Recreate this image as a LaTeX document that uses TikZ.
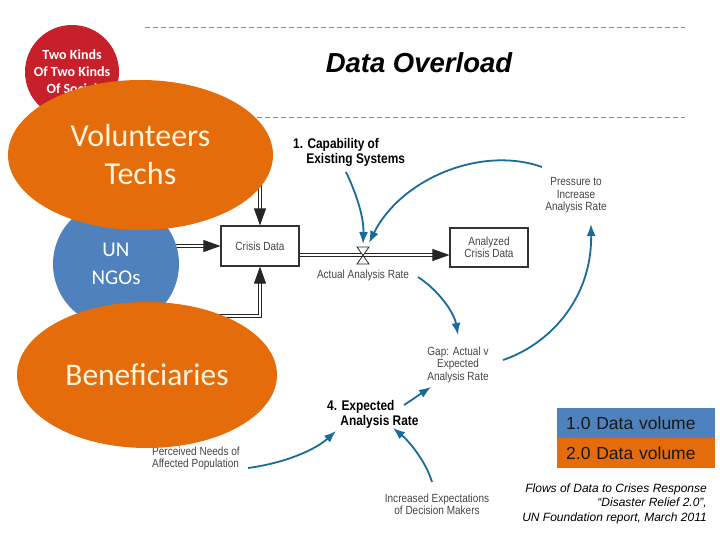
\documentclass[tikz,border=0pt]{standalone}
\usepackage{fontspec}
\setmainfont{Liberation Sans}
\newfontfamily\narrowfont[FakeStretch=0.85]{Liberation Sans}
\newfontfamily\calfont{Carlito}
\usetikzlibrary{shapes.geometric,arrows.meta,calc}
\definecolor{orng}{HTML}{E46C0A}
\definecolor{unblue}{HTML}{4F81BD}
\definecolor{redc}{HTML}{C8202B}
\definecolor{arrowblue}{HTML}{1A6A9A}
\definecolor{lblgray}{HTML}{444444}
\definecolor{cream}{HTML}{FFF4DE}
\definecolor{dashgray}{HTML}{8C8C8C}
\pgfdeclarelayer{bg}
\pgfdeclarelayer{fg}
\pgfsetlayers{bg,main,fg}
\begin{document}
\begin{tikzpicture}[x=1pt,y=-1pt,
  lbl/.style={font=\narrowfont\fontsize{11.8}{12.5}\selectfont, text=lblgray, inner sep=0pt, align=center},
  blbl/.style={font=\narrowfont\bfseries\fontsize{14}{15}\selectfont, text=black, inner sep=0pt, align=left},
  sbox/.style={draw=black!80, line width=1.1pt, fill=white, inner sep=0pt, minimum width=78pt, lbl},
  pipe/.style={draw=black!85, line width=0.8pt, double=white, double distance=2.6pt, -{Triangle[length=17pt,width=12pt]}},
  barrow/.style={draw=arrowblue, line width=1.8pt, -{Latex[length=12pt,width=9pt]}},
  blob/.style={ellipse, inner sep=0pt, fill=orng, text=cream, align=center},
  legbox/.style={minimum height=30pt, text width=140pt, inner xsep=9pt, inner ysep=0pt, align=left, font=\fontsize{17.5}{20}\selectfont, text=black!90},
  dline/.style={draw=dashgray, line width=0.6pt, dash pattern=on 5pt off 3pt}
]
\useasboundingbox (0,0) rectangle (720,540);

% dashed rules and title
\coordinate (d1a) at (145,27);  \coordinate (d1b) at (685,27);
\coordinate (d2a) at (145,117); \coordinate (d2b) at (685,117);
\draw[dline] (d1a) -- (d1b);
\draw[dline] (d2a) -- (d2b);
\node[anchor=base, font=\bfseries\itshape\fontsize{27.5}{30}\selectfont] (title) at (419,72.7) {Data Overload};

% circles
\node[circle, fill=redc, minimum size=94pt, inner sep=0pt, text=white, align=center,
      font=\calfont\bfseries\fontsize{14}{17}\selectfont] (two) at (72,72) {Two Kinds\\Of Two Kinds\\Of Social};
\node[circle, fill=unblue, minimum size=126pt, inner sep=0pt, text=white, align=center,
      font=\calfont\fontsize{21}{28}\selectfont] (un) at (116,264) {UN\\NGOs};

% stock boxes
\node[sbox, minimum height=40pt] (crisis) at (260,246) {Crisis Data};
\node[sbox, minimum height=39pt, font=\narrowfont\fontsize{11.8}{12}\selectfont] (anal) at (489,247.5) {Analyzed\\Crisis Data};

% pipes
\begin{pgfonlayer}{bg}
\coordinate (p1) at ([yshift=-9pt]crisis.east);
\coordinate (ul) at (crisis.west -| un.center);
\coordinate (bsrc) at (190,316);
\draw[pipe] (p1) -- (p1 -| anal.west);
\draw[pipe] (ul) -- (crisis.west);
\draw[pipe] (crisis.north |- 0,150) -- (crisis.north);
\draw[pipe] (bsrc) -| (crisis.south);
\end{pgfonlayer}

% valve
\coordinate (valve) at (363,255.5);
\draw[line width=0.8pt, draw=black!85, fill=white]
  ($(valve)+(-6,-8.5)$) -- ($(valve)+(6,-8.5)$) -- ($(valve)+(-6,8.5)$) -- ($(valve)+(6,8.5)$) -- cycle;
\coordinate (vtop) at (363,244);
\coordinate (vtop2) at (369,243);

% labels
\node[blbl, anchor=north west] (cap) at (293,138) {1. Capability of\\\hphantom{1.}\ Existing Systems};
\node[lbl, anchor=base] (actual) at (363,278) {Actual Analysis Rate};
\node[lbl, anchor=north] (pressure) at (576,177.5) {Pressure to\\Increase\\Analysis Rate};
\node[lbl, anchor=north] (gap) at (458,346.5) {Gap: Actual v\\Expected\\Analysis Rate};
\node[blbl, anchor=north west] (expect) at (327,400) {4. Expected\\\hphantom{4.}\ Analysis Rate};
\node[lbl, anchor=north west, align=left] (perc) at (152,446.5) {Perceived Needs of\\Affected Population};
\node[lbl, anchor=north] (incr) at (437,493.5) {Increased Expectations\\of Decision Makers};

% blue causal arrows
\coordinate (a1s) at (346,172);
\coordinate (a2s) at (542,167);
\coordinate (a3s) at (418,277);
\coordinate (a3e) at (458,335);
\coordinate (a4s) at (503,360);
\coordinate (a4e) at (591,224);
\coordinate (a5s) at (404,405);
\coordinate (a5e) at (431,387);
\coordinate (a6s) at (248,468);
\coordinate (a6e) at (336,431);
\coordinate (a7s) at (432,482);
\coordinate (a7e) at (393,428);
\draw[barrow] (a1s) .. controls (357,195) and (364,218) .. (vtop);
\draw[barrow] (a2s) .. controls (480,145) and (400,180) .. (vtop2);
\draw[barrow] (a3s) .. controls (438,290) and (454,312) .. (a3e);
\draw[barrow] (a4s) .. controls (548,345) and (592,300) .. (a4e);
\draw[barrow] (a5s) -- (a5e);
\draw[barrow] (a6s) .. controls (285,463) and (315,450) .. (a6e);
\draw[barrow] (a7s) .. controls (426,462) and (410,442) .. (a7e);

% orange ellipses on top
\begin{pgfonlayer}{fg}
\node[blob, minimum width=265pt, minimum height=150pt, font=\calfont\fontsize{32}{38}\selectfont] (vol) at (140.5,155) {Volunteers\\Techs};
\node[blob, minimum width=260pt, minimum height=146pt, font=\calfont\fontsize{31.5}{38}\selectfont] (bene) at (147,375) {Beneficiaries};
\end{pgfonlayer}

% legend
\node[legbox, fill=unblue, anchor=north west] (leg1) at (557,408) {1.0 Data volume};
\node[legbox, fill=orng, anchor=north west] (leg2) at (557,438) {2.0 Data volume};

% caption
\node[anchor=north east, align=right, inner sep=0pt, font=\itshape\fontsize{12}{14.5}\selectfont] (cap2) at (707,483.5)
  {Flows of Data to Crises Response\\“Disaster Relief 2.0”,\\UN Foundation report, March 2011};
\end{tikzpicture}
\end{document}
